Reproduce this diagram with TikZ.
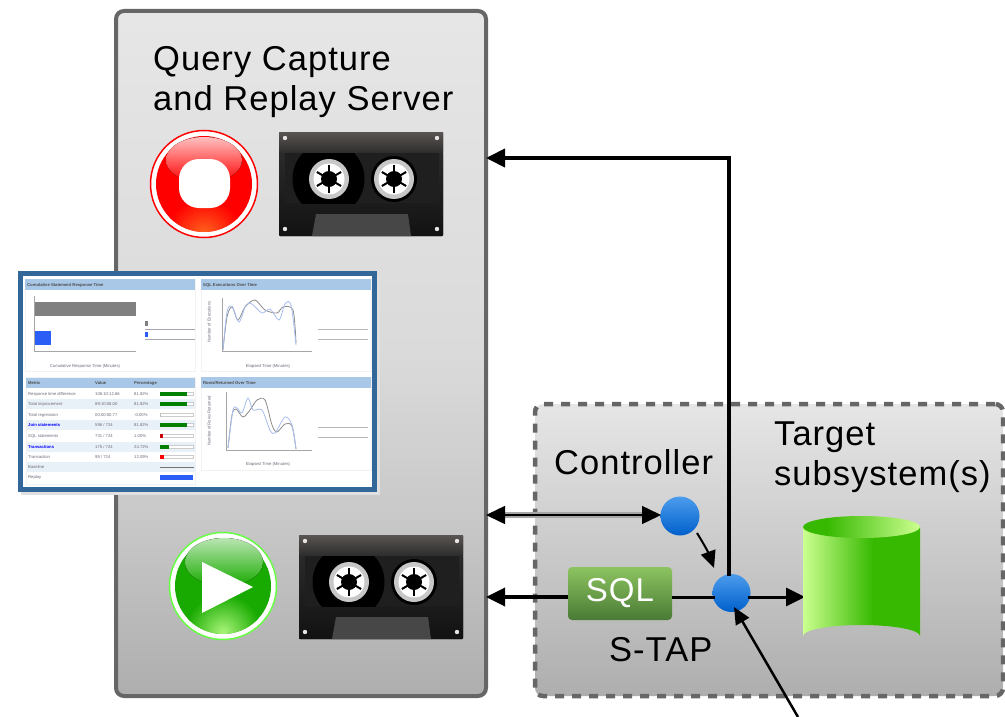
\documentclass[tikz,border=0pt]{standalone}
\usepackage{fontspec}
\setmainfont{Liberation Sans}
\newfontfamily\widefont[LetterSpace=3]{Liberation Sans}
\usetikzlibrary{arrows.meta,calc}
\definecolor{boxtop}{HTML}{E6E6E6}
\definecolor{boxmid}{HTML}{DADADA}
\definecolor{boxlow}{HTML}{C8C8C8}
\definecolor{boxbot}{HTML}{AEAEAE}
\definecolor{boxedge}{HTML}{666666}
\definecolor{dotedge}{HTML}{0060CC}
\definecolor{dottop}{HTML}{4C9CEC}
\definecolor{dashblue}{HTML}{336699}
\definecolor{panelhead}{HTML}{A9C8E8}
\definecolor{rowblue}{HTML}{E8F0F8}
\definecolor{chartblue}{HTML}{A9BEF0}
\definecolor{barblue}{HTML}{2A5EF5}
\definecolor{labelgrey}{HTML}{6E6A7A}
\definecolor{sqltop}{HTML}{8CC460}
\definecolor{sqlbot}{HTML}{4A7A35}
\definecolor{dblight}{HTML}{CCFF8F}
\definecolor{dbdark}{HTML}{36B900}
\definecolor{tapetop}{HTML}{5A5552}
\definecolor{tapemid}{HTML}{2A2A2A}
\definecolor{tapebot}{HTML}{121212}
\definecolor{playring}{HTML}{66FF44}
\definecolor{playbase}{HTML}{18AA00}
\definecolor{playglow}{HTML}{A8F478}
\definecolor{recglow}{HTML}{FF6A20}
\pgfdeclareverticalshading{serverfill}{100bp}{color(0bp)=(boxbot); color(25bp)=(boxbot); color(38bp)=(boxlow); color(50bp)=(boxmid); color(75bp)=(boxtop); color(100bp)=(boxtop)}
\pgfdeclarehorizontalshading{dbbody}{100bp}{color(0bp)=(dblight); color(25bp)=(dblight); color(55bp)=(dbdark); color(100bp)=(dbdark)}
\pgfdeclarehorizontalshading{dbtop}{100bp}{color(0bp)=(dbdark); color(35bp)=(dbdark); color(75bp)=(dblight); color(100bp)=(dblight)}
\tikzset{
  pics/cassette/.style={code={
    \fill[top color=tapetop,bottom color=tapemid,rounded corners=1pt] (0,0) rectangle (164,22);
    \fill[top color=tapemid,bottom color=tapebot,rounded corners=1pt] (0,21) rectangle (164,104);
    \fill[black!88] (6,21) rectangle (160,71);
    \begin{scope}
      \clip (6,21) rectangle (160,71);
      \fill[black] (49.5,47) ellipse (36 and 37);
    \end{scope}
    \fill[black] (115,47) circle (23);
    \fill[black!72] (33,104) -- (37,82) -- (129,82) -- (132,104) -- cycle;
    \foreach \cx in {50,115} {
      \fill[black!22] (\cx,47) circle (20);
      \fill[white] (\cx,47) circle (15.5);
      \fill[black] (\cx,47) circle (8);
      \foreach \a in {30,90,...,330}
        \draw[black,line width=2pt] (\cx,47) -- ++(\a:14);
    }
    \foreach \sx/\sy in {6/6,158/6,6/97,158/97}
      \fill[black!10] (\sx,\sy) circle (2.2);
  }},
}
\begin{document}
\begin{tikzpicture}[x=1pt,y=-1pt,
                    bigtext/.style={inner sep=0,align=left,anchor=west,font=\fontsize{34.5}{40}\widefont},
                    serverbox/.style={rectangle,draw=boxedge,line width=4pt,rounded corners=8pt,shading=serverfill,minimum width=370pt,minimum height=685pt},
                    targetbox/.style={rectangle,draw=boxedge,line width=4.5pt,dash pattern=on 9pt off 8pt,rounded corners=8pt,top color=boxtop,bottom color=boxbot,minimum width=468pt,minimum height=292pt},
                    tap/.style={circle,inner sep=0,minimum size=39pt,top color=dottop,bottom color=dotedge},
                    sqlnode/.style={rectangle,rounded corners=4pt,top color=sqltop,bottom color=sqlbot,text=white,minimum width=104pt,minimum height=53pt,inner sep=0,font=\fontsize{33}{36}\widefont},
                    wire/.style={black,line width=3pt},
                    arrowline/.style={-{Triangle[length=19pt,width=18pt]},black,line width=3.5pt},
                    thinarrow/.style={-{Triangle[length=17pt,width=15pt]},black},
                    panel/.style={draw=black!5,fill=white,line width=1pt},
                    panelhd/.style={fill=panelhead},
                    tiny/.style={inner sep=0,font=\fontsize{4.2}{5}\selectfont,text=labelgrey,anchor=west},
                    ]
\useasboundingbox (0,0) rectangle (1005,717);

\node[serverbox] (server) at (301,353.5) {};
\node[targetbox] (target) at (769,550) {};

\node[bigtext] (title) at (153,82) {Query Capture\\and Replay Server};
\node[bigtext] (targetlabel) at (774,457) {Target\\subsystem(s)};
\node[bigtext] (controller) at (554,462) {Controller};
\node[bigtext] (staplabel) at (609,650) {S-TAP};

% record and play buttons
\node[circle,draw=red,line width=1.5pt,fill=white,minimum size=107pt,inner sep=0] (record) at (204,184) {};
\fill[red] (record) circle (48);
\begin{scope}
  \clip (record) circle (48);
  \shade[inner color=recglow,outer color=red] (204,236) circle (38);
\end{scope}
\fill[top color=red!25,bottom color=red] (204,160) ellipse (38 and 23);
\fill[white,rounded corners=20pt] (179,159) rectangle (230,208);

\node[circle,draw=playring,line width=1.5pt,fill=white,minimum size=107pt,inner sep=0] (play) at (223,586) {};
\fill[playbase] (play) circle (48);
\begin{scope}
  \clip (play) circle (48);
  \shade[inner color=playglow,outer color=playbase] (223,632) circle (38);
\end{scope}
\fill[top color=playbase!30,bottom color=playbase] (224,562) ellipse (39 and 24);
\fill[white] (202,562) -- (253,587) -- (202,613) -- cycle;

\pic at (279,132) {cassette};
\pic at (299,535) {cassette};

% report
\fill[black!12] (21,276) rectangle (380,495);
\node[rectangle,draw=dashblue,fill=white,line width=5pt,minimum width=354pt,minimum height=216pt,inner sep=0] (report) at (197.5,381.5) {};
\foreach \px/\py/\pw/\ph in {25/279/170/92,201/279/170/92,26/377/169/107,201/377/170/93} {
  \draw[panel] (\px,\py) rectangle ++(\pw,\ph);
}
\foreach \px/\py/\pw in {25/279/170,201/279/170,201/377/170}
  \fill[panelhd] (\px,\py) rectangle ++(\pw,11);
\fill[panelhd] (26,378) rectangle (195,388);
\node[tiny,text=black!70] (hda) at (27,285) {\bfseries Cumulative Statement Response Time};
\node[tiny,text=black!70] (hdb) at (203,285) {\bfseries SQL Executions Over Time};
\node[tiny,text=black!70] (hdc) at (203,383) {\bfseries Rows/Returned Over Time};
\node[tiny,text=black!70] (hdd) at (28,383) {\bfseries Metric};
\node[tiny,text=black!70] (hde) at (95,383) {\bfseries Value};
\node[tiny,text=black!70] (hdf) at (134,383) {\bfseries Percentage};

% bar chart
\draw[black!35,line width=1pt] (34,296) -- (34,351) -- (136,351);
\fill[black!50] (35,302) rectangle (136,316);
\fill[barblue] (35,331) rectangle (51,345);
\fill[black!50] (145,321) rectangle (148,326);
\fill[barblue] (145,332) rectangle (148,337);
\node[tiny,anchor=center] (axa) at (85,366) {Cumulative Response Time (Minutes)};
\foreach \ly in {329,339}
  \fill[labelgrey!60] (145,\ly) rectangle (195,\ly+1);

% line charts
\draw[black!35,line width=1pt] (222,298) -- (222,351) -- (312,351);
\draw[black!45,line width=.8pt] plot[smooth] coordinates {(223,350)(227,317)(232,307)(238,320)(245,307)(255,300)(265,310)(277,313)(283,307)(293,310)(296,343)};
\draw[chartblue,line width=.8pt] plot[smooth] coordinates {(223,350)(227,312)(232,306)(239,322)(246,305)(252,304)(262,313)(270,309)(279,320)(285,304)(291,305)(296,345)};
\node[tiny,anchor=center] (axb) at (268,366) {Elapsed Time (Minutes)};
\node[tiny,anchor=center,rotate=90] (axc) at (209,322) {Number of Executions};
\draw[black!35,line width=1pt] (226,392) -- (226,450) -- (312,450);
\draw[black!45,line width=.8pt] plot[smooth] coordinates {(228,448)(232,415)(236,409)(243,417)(250,410)(257,400)(265,400)(272,425)(277,432)(285,424)(292,426)(296,449)};
\draw[chartblue,line width=.8pt] plot[smooth] coordinates {(228,448)(233,410)(237,408)(242,413)(248,398)(253,410)(262,410)(270,430)(275,433)(285,417)(292,425)(296,449)};
\node[tiny,anchor=center] (axd) at (268,464) {Elapsed Time (Minutes)};
\node[tiny,anchor=center,rotate=90] (axe) at (209,421) {Number of Rows Returned};
\foreach \ly in {329,339,427,437}
  \fill[labelgrey!50] (318,\ly) rectangle (368,\ly+1);

% table
\foreach \ry in {404,425,447,467}
  \fill[rowblue] (27,\ry-5) rectangle (195,\ry+5);
\foreach \ry/\rlabel/\rvalue/\rpct/\rcol/\rlen in {394/Response time difference/106:10:12.66/81.82\%/green!50!black/27,404/Total improvement/89:10:08.00/81.82\%/green!50!black/27,415/Total regression/00:00:00.77/-0.00\%/green!50!black/0,436/SQL statements/{731 / 724}/1.00\%/red!80!black/3,457/Transaction/{98 / 724}/12.09\%/red/4} {
  \node[tiny] at (28,\ry) {\rlabel};
  \node[tiny] at (95,\ry) {\rvalue};
  \node[tiny] at (134,\ry) {\rpct};
  \fill[black!20] (160,\ry-2) rectangle (194,\ry+2);
  \fill[white] (161,\ry-1) rectangle (193,\ry+1);
  \fill[\rcol] (160,\ry-2) rectangle ++(\rlen,4);
}
\foreach \ry/\rlabel/\rvalue/\rpct/\rcol/\rlen in {425/Join statements/{596 / 724}/81.82\%/green!50!black/27,447/Transactions/{175 / 724}/24.72\%/green!50!black/9} {
  \node[tiny,text=blue,font=\fontsize{4.2}{5}\bfseries\selectfont] at (28,\ry) {\rlabel};
  \node[tiny] at (95,\ry) {\rvalue};
  \node[tiny] at (134,\ry) {\rpct};
  \fill[black!20] (160,\ry-2) rectangle (194,\ry+2);
  \fill[white] (161,\ry-1) rectangle (193,\ry+1);
  \fill[\rcol] (160,\ry-2) rectangle ++(\rlen,4);
}
\node[tiny] at (28,467) {Baseline};
\node[tiny] at (28,477) {Replay};
\fill[black!55] (160,466.5) rectangle (194,468);
\fill[barblue] (160,475) rectangle (193,480);

% connectors
\node[sqlnode] (sql) at (620,593.5) {SQL};
\node[tap] (ctrldot) at (680,516) {};
\node[tap,minimum size=38pt] (stapdot) at (731.5,593) {};
\coordinate (recin) at (486,158);
\coordinate (ctrlin) at (486,515);
\coordinate (replayin) at (486,597);
\coordinate (sqlleft) at (568,597);
\coordinate (sqlright) at (672,597);
\coordinate (stapleft) at (715,597);
\coordinate (stapright) at (748,597);
\coordinate (dbin) at (805,597);
\coordinate (stapin) at (728.5,576);
\coordinate (ctrlout) at (661,515);
\coordinate (ctrlfoot) at (697,533);
\coordinate (staphead) at (714,568);
\coordinate (stapfoot) at (734,607);
\coordinate (feed) at (798,717);

\draw[arrowline,line width=4pt] (stapin) |- (recin);
\draw[black!35,line width=6pt] (505,515) -- (642,515);
\draw[{Triangle[length=19pt,width=18pt]}-{Triangle[length=19pt,width=18pt]},black,line width=1.5pt] (ctrlin) -- (ctrlout);
\draw[arrowline] (sqlleft) -- (replayin);
\draw[wire] (sqlright) -- (stapleft);
\draw[arrowline,line width=3pt] (stapright) -- (dbin);
\draw[thinarrow,line width=2pt] (ctrlfoot) to[bend left=6] (staphead);
\draw[thinarrow,line width=2.5pt] (feed) -- (stapfoot);

% target database
\shade[shading=dbbody] (803,527) -- (803,636) arc[start angle=180,end angle=360,x radius=58.5,y radius=11] -- (920,527) -- cycle;
\shade[shading=dbtop] (861.5,527) ellipse (58.5 and 11);
\end{tikzpicture}
\end{document}
